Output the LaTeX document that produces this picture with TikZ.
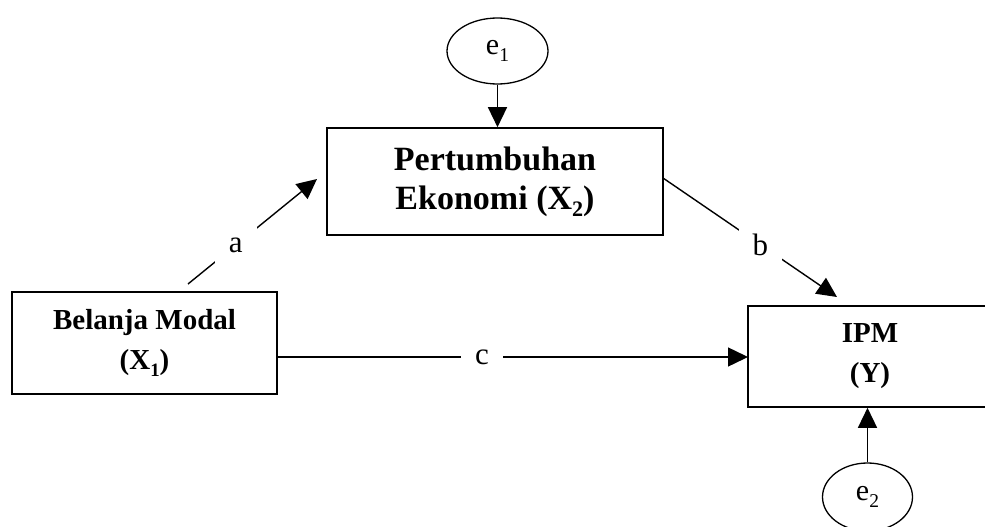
\documentclass[tikz,border=0pt]{standalone}
\usepackage{fontspec}
\setmainfont{Liberation Serif}
\usetikzlibrary{arrows.meta,shapes.geometric}
\newcommand{\mysub}[1]{\raisebox{-0.22em}{\fontsize{0.65em}{0.65em}\selectfont #1}}
\tikzset{
  box/.style={draw, line width=1.6pt, rectangle, align=center, font=\fontsize{29}{40}\selectfont\bfseries, inner sep=0pt},
  bigbox/.style={box, font=\fontsize{34}{39}\selectfont\bfseries},
  err/.style={draw, line width=1.3pt, ellipse, inner sep=0pt, font=\fontsize{30}{34}\selectfont},
  conn/.style={line width=1.4pt, -{Triangle[length=20pt,width=19pt]}},
  lbl/.style={fill=white, inner sep=14pt, font=\fontsize{31}{34}\selectfont},
}
\begin{document}
\begin{tikzpicture}[x=1pt, y=-1pt]
\useasboundingbox (0,0) rectangle (985,527);
\clip (0,0) rectangle (985,527);
\node[box, minimum width=265pt, minimum height=102pt] (x1) at (144.5,343) {Belanja Modal\\(X\mysub{1})};
\node[bigbox, minimum width=336pt, minimum height=107pt] (x2) at (495,181.5) {Pertumbuhan\\Ekonomi (X\mysub{2})};
\node[box, minimum width=244pt, minimum height=101pt] (y) at (870,356.5) {IPM\\(Y)};
\node[err, minimum width=101pt, minimum height=66pt] (e1) at (497.5,51) {e\mysub{1}};
\node[err, minimum width=90pt, minimum height=68pt] (e2) at (867.5,497) {e\mysub{2}};
\coordinate (a1) at (188,284);
\coordinate (a2) at (317,179);
\coordinate (b1) at (663,178);
\coordinate (b2) at (837,297);
\coordinate (c1) at (277,357);
\coordinate (c2) at (748,357);
\draw[conn] (e1.south) -- (e1.south |- x2.north);
\draw[conn] (e2.north) -- (e2.north |- y.south);
\draw[conn] (a1) -- node[lbl, pos=0.37] {a} (a2);
\draw[conn] (b1) -- node[lbl, pos=0.56] {b} (b2);
\draw[conn] (c1) -- node[lbl, pos=0.435] {c} (c2);
\end{tikzpicture}
\end{document}
